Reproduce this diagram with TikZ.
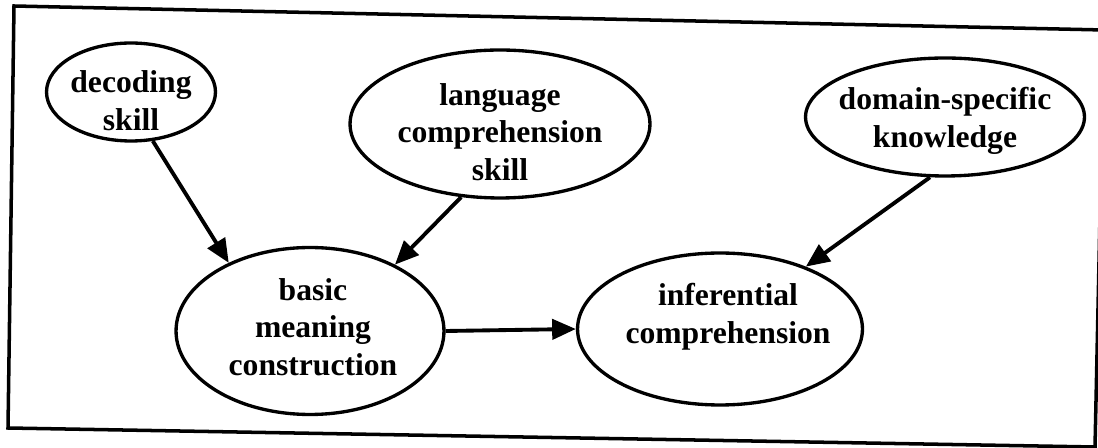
\documentclass[tikz,border=0pt]{standalone}
\usepackage{fontspec}
\setmainfont{Liberation Serif}
\usepackage{tikz}
\usetikzlibrary{shapes}
\usetikzlibrary{arrows.meta}
\tikzset{
	skill node/.style={ellipse,draw,line width=1.9pt,inner sep=0pt},
	oval text/.style={font=\bfseries\fontsize{18}{21.5}\selectfont,align=center,inner sep=0pt},
	frame line/.style={line width=2pt,line join=miter,-}
}

\begin{document}
\begin{tikzpicture}[x=0.02cm,y=-0.02cm,->,>={Triangle[length=13.5pt,width=11.5pt]},line width=2.2pt]
	\clip (0,0) rectangle (1098,448);
	\draw [frame line] (14,6) -- (1104,30) -- (1095,447) -- (8,428) -- cycle;
	\node [skill node,minimum width=3.38cm,minimum height=1.96cm,
		label={[oval text,yshift=-0.18cm]center:{decoding\\skill}}] (dec) at (131,92) {};
	\node [skill node,minimum width=6.0cm,minimum height=2.96cm,
		label={[oval text,yshift=-0.16cm]center:{language\\comprehension\\skill}}] (lang) at (500,124) {};
	\node [skill node,minimum width=5.58cm,minimum height=2.36cm,
		label={[oval text,yshift=-0.08cm]center:{domain-specific\\knowledge}}] (dom) at (945,117) {};
	\node [skill node,minimum width=5.36cm,minimum height=3.34cm,
		label={[oval text,xshift=0.06cm,yshift=0.08cm]center:{basic\\meaning\\construction}}] (basic) at (310,331) {};
	\node [skill node,minimum width=5.7cm,minimum height=3.04cm,
		label={[oval text,xshift=0.16cm,yshift=0.24cm]center:{inferential\\comprehension}}] (infer) at (720,329) {};
	\draw (dec.-66) -- (basic.140);
	\draw (lang.-118) -- (basic.38);
	\draw (basic.east) -- (infer.west);
	\draw (dom.-104) -- (infer.36);
\end{tikzpicture}
\end{document}
